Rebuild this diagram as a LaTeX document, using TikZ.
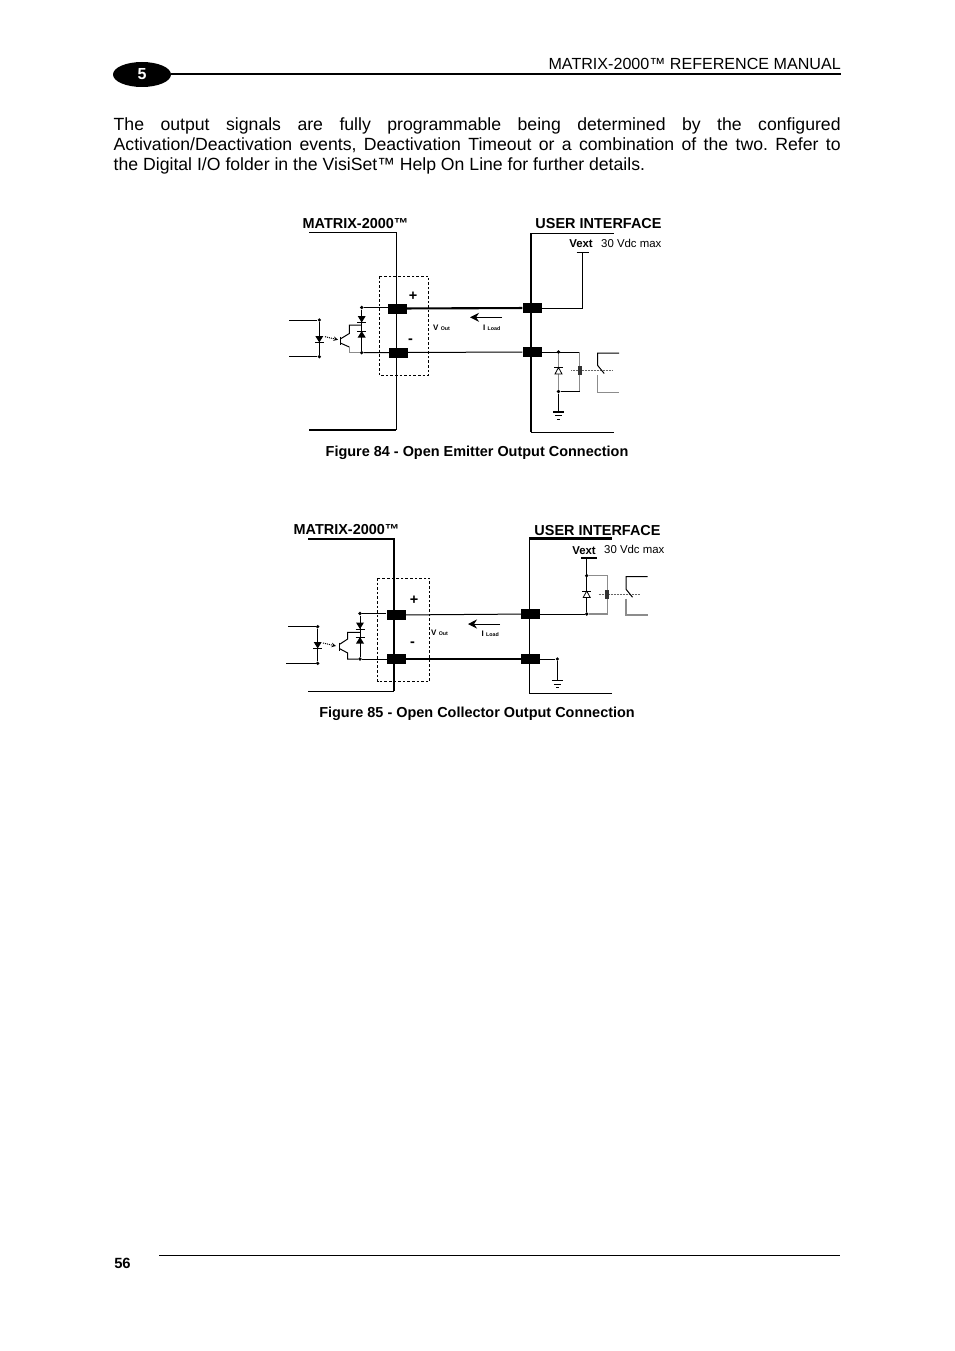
\documentclass[tikz,border=0pt]{standalone}
\usepackage{fontspec}
\setmainfont{Liberation Sans}
\usetikzlibrary{shapes.geometric,arrows.meta}
\tikzset{
  term/.style={fill=black,inner sep=0pt,minimum width=19pt,minimum height=10pt},
  dot/.style={circle,fill=black,inner sep=0pt,minimum size=3.6pt},
  wire/.style={line width=1pt},
  heavy/.style={line width=2.1pt},
  grayw/.style={line width=1.1pt,color=black!45},
  boxline/.style={line width=0.7pt,dash pattern=on 2.6pt off 2pt},
  iarrow/.style={-{Stealth[length=9pt,width=9pt]},line width=1pt},
  head/.style={font=\fontsize{14.45}{16}\selectfont\bfseries,inner sep=0pt},
  small/.style={font=\fontsize{11.4}{12}\selectfont,inner sep=0pt},
  tiny/.style={font=\fontsize{8}{9}\selectfont\bfseries,inner sep=0pt}
}
\newcommand{\lo}[1]{{\fontsize{5.3}{6}\selectfont #1}}
\begin{document}
\begin{tikzpicture}[x=1pt,y=-1pt]
\useasboundingbox (0,0) rectangle (954,1351);
% page head
\node[ellipse,fill=black,minimum width=58pt,minimum height=25pt,inner sep=0pt] (tab) at (142,74.5) {};
\node[white,font=\fontsize{16}{18}\selectfont\bfseries,inner sep=0pt] (tabnum) at (142,74.5) {5};
\coordinate (headend) at (841,74);
\draw[heavy] (tab.east |- headend)--(headend);
\node[anchor=east,font=\fontsize{16.1}{18}\selectfont,inner sep=0pt] (manual) at (841,64) {MATRIX-2000™ REFERENCE MANUAL};
\node[anchor=north west,text width=727pt,align=justify,inner sep=0pt,font=\fontsize{17.65}{20}\selectfont\frenchspacing] (para) at (113.5,117.5)
{The output signals are fully programmable being determined by the configured\linebreak Activation/Deactivation events, Deactivation Timeout or a combination of the two. Refer to\linebreak the Digital I/O folder in the VisiSet™ Help On Line for further details.};
% page foot
\coordinate (footl) at (159,1255);
\coordinate (footr) at (840,1255);
\draw[line width=0.7pt] (footl)--(footr);
\node[font=\fontsize{14.8}{16}\selectfont\bfseries,inner sep=0pt] (pageno) at (122.5,1263.5) {56};

% Figure 84
\node[head] (ma) at (355.5,224) {MATRIX-2000™};
\node[head] (ua) at (598.5,224) {USER INTERFACE};
\node[head] (capa) at (477,453) {Figure 84 - Open Emitter Output Connection};
\draw[wire] (309,232)--(396,232)--(396,430);
\draw[heavy] (309,430)--(396,430);
\draw[heavy] (531,431.5)--(531,233);
\draw[wire] (531,233)--(614,233) (531,432)--(614,432);
\draw[boxline] (379.5,276) rectangle (428.5,375.5);
\node[term] (pa) at (397.5,308.5) {};
\node[term] (na) at (398.5,352.5) {};
\node[term] (qa) at (532,308) {};
\node[term] (ra) at (532,352) {};
\draw[heavy] (pa)--(qa);
\draw[wire] (na)--(ra);
\node[head] (plusa) at (413,296.5) {+};
\node[head] (minusa) at (410.5,341) {-};
\node[tiny,anchor=west] (va) at (433,327.5) {V \lo{Out}};
\node[tiny,anchor=west] (ia) at (483,328) {I \lo{Load}};
\draw[iarrow] (502,317.3)--(470,317.3);
% vext
\node[small,font=\fontsize{11.4}{12}\selectfont\bfseries] (vxa) at (581,243.5) {Vext};
\node[small,anchor=west] (vma) at (601,243.5) {30 Vdc max};
\coordinate (ba) at (582.7,252);
\draw[wire] (qa)-|(ba);
\draw[wire] (576.7,252)--(589,252);
% load
\node[dot] (da) at (558.5,352) {};
\node[dot] (ea) at (558.5,391.5) {};
\coordinate (ka) at (579.7,352);
\coordinate (la) at (579.7,391.5);
\coordinate (ga) at (558.5,412);
\draw[wire] (ra)--(ka);
\draw[grayw] (ka)--(la);
\draw[wire] (ea)--(la);
\draw[grayw] (da)--(ea);
\draw[wire] (ea)--(ga);
% opto
\node[dot] (ta) at (361.7,307.5) {};
\node[dot] (ua2) at (361.7,352.7) {};
\node[dot] (wa) at (319.3,320) {};
\node[dot] (xa) at (319.3,356.7) {};
\coordinate (ca) at (289,320);
\coordinate (ya) at (289,356.7);
\draw[wire] (ta)--(pa.west |- ta);
\draw[wire] (ua2)--(na);
\draw[wire] (ta)--(ua2);
\draw[wire] (ca)--(wa)--(xa)--(ya);
\draw[wire] (340.3,339)--(349.3,333.5)--(349.3,325)--(361.7,325);
\draw[wire] (340.3,343)--(349.3,347);
\draw[grayw] (349.3,347)--(349.3,352.7)--(ua2);

% Figure 85
\node[head] (mb) at (346.5,530) {MATRIX-2000™};
\node[head] (ub) at (597.5,531) {USER INTERFACE};
\node[head] (capb) at (477,714) {Figure 85 - Open Collector Output Connection};
\draw[heavy] (308,539)--(394.3,539)--(394.3,691);
\draw[wire] (308,691.5)--(394.3,691.5);
\draw[wire] (612,693.3)--(529.3,693.3)--(529.3,539);
\draw[heavy] (529.3,538.5)--(612,538.5);
\draw[boxline] (377.5,578) rectangle (429.5,681.5);
\node[term] (pb) at (396,615) {};
\node[term] (nb) at (396.5,659) {};
\node[term] (qb) at (530.5,614) {};
\node[term] (rb) at (530.5,659) {};
\draw[wire] (pb)--(qb);
\draw[heavy] (nb)--(rb);
\node[head] (plusb) at (414,600.5) {+};
\node[head] (minusb) at (412.5,644) {-};
\node[tiny,anchor=west] (vb) at (431,633) {V \lo{Out}};
\node[tiny,anchor=west] (ib) at (481.5,634) {I \lo{Load}};
\draw[iarrow] (500,624)--(468,624);
% vext
\node[small,font=\fontsize{11.4}{12}\selectfont\bfseries] (vxb) at (584,551) {Vext};
\node[small,anchor=west] (vmb) at (604,549.5) {30 Vdc max};
\draw[line width=1.6pt] (581,557.7)--(597,557.7);
% load
\node[dot] (db) at (586.7,575.7) {};
\node[dot] (eb) at (586.7,614) {};
\coordinate (sb) at (586.7,557.7);
\coordinate (kb) at (607.7,575.7);
\coordinate (lb) at (607.7,614);
\node[dot] (hb) at (557.3,659) {};
\coordinate (gb) at (557.3,680.7);
\draw[wire] (qb)--(eb);
\draw[wire] (sb)--(eb);
\draw[grayw] (db)-|(lb)--(eb);
\draw[wire] (rb)--(hb)--(gb);
% opto
\node[dot] (tb) at (360,613.5) {};
\node[dot] (vb2) at (360,659) {};
\node[dot] (wb) at (317.7,626.7) {};
\node[dot] (xb) at (317.7,663.3) {};
\coordinate (cb) at (288,626.7);
\coordinate (yb) at (286,663.3);
\draw[wire] (tb)--(pb.west |- tb);
\draw[wire] (vb2)--(nb);
\draw[wire] (tb)--(vb2);
\draw[wire] (cb)--(wb)--(xb)--(yb);
\draw[wire] (339.3,644.5)--(347.7,639)--(347.7,632.3)--(360,632.3);
\draw[wire] (339.3,648.5)--(347.7,653)--(347.7,659)--(vb2);

% parts used in both figures
\foreach \x/\y in {361.7/316,319.3/336,360/622.5,317.7/642}{\fill(\x-4,\y)--++(8,0)--++(-4,6.5)--cycle;\draw[wire](\x-4.5,\y+6.5)--++(9,0);}
\foreach \x/\y in {361.7/331,360/637}{\fill(\x-4,\y+6.5)--++(8,0)--++(-4,-6.5)--cycle;\draw[wire](\x-4.5,\y)--++(9,0);}
\foreach \x/\y in {558.5/367.5,586.7/591}{\filldraw[fill=white,line width=0.8pt](\x-3.5,\y+6.5)--++(7,0)--++(-3.5,-6.5)--cycle;\draw[wire](\x-4.5,\y)--++(9,0);}
\foreach \x/\y in {340.3/336.5,339.3/642.5}{\draw[line width=1.2pt](\x,\y)--++(0,8.5);}
\foreach \x/\y in {325/336.7,323/643}{\draw[densely dotted,-stealth,line width=1pt](\x,\y)--++(13,3);}
\foreach \x/\y in {558.5/412,557.3/680.7}{\draw[line width=1.2pt](\x-5.5,\y)--++(11,0);\draw[wire](\x-3.5,\y+3.5)--++(7,0);\draw[wire](\x-1.5,\y+7)--++(3,0);}
\foreach \x/\y/\r in {579.7/370.5/612,607/594/640}{\draw[densely dotted,line width=0.5pt,black!60](\x-8.5,\y)--(\r,\y);\fill[black!80](\x-2.2,\y-4.5) rectangle ++(4.4,9);}
% relay contacts
\foreach \x/\t/\b in {597.7/353/392.5,626/576.7/615}{
\draw[wire](\x+21.5,\t)--(\x,\t)--(\x,\t+12.5)--++(6.5,8);
\draw[grayw](\x,\t+22)--(\x,\b)--(\x+21.5,\b);}
\end{tikzpicture}
\end{document}
